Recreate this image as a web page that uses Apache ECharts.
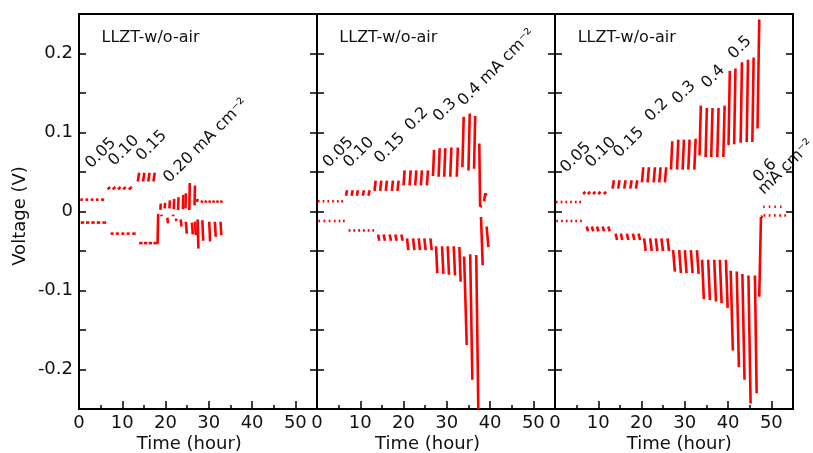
<!DOCTYPE html>
<html><head><meta charset="utf-8">
<script src="https://cdn.jsdelivr.net/npm/echarts@6/dist/echarts.min.js"></script>
<style>html,body{margin:0;padding:0;background:#fff}#c{width:813px;height:453px}</style>
</head><body><div id="c"></div>
<script>
// ---- tick labels ----
const xTickVals = [0, 10, 20, 30, 40, 50];
const yTickVals = [-0.2, -0.1, 0, 0.1, 0.2];
const panelTitle = 'LLZT-w/o-air';
const xName = 'Time (hour)';
const yName = 'Voltage (V)';
const annP1 = ['0.05', '0.10', '0.15', '0.20 mA cm\u207B\u00B2'];
const annP2 = ['0.05', '0.10', '0.15', '0.2', '0.3', '0.4 mA cm\u207B\u00B2'];
const annP3 = ['0.05', '0.10', '0.15', '0.2', '0.3', '0.4', '0.5', '0.6', 'mA cm\u207B\u00B2'];

// ---- data: each item = [t start (h), V start, t end (h), V end] ----
const p1Pos = [
  [0.3,0.015,0.9,0.015],[1.5,0.015,2.1,0.015],[2.7,0.015,3.3,0.015],[3.9,0.015,4.5,0.015],[5.1,0.015,5.8,0.015],
  [6.6,0.028,7.2,0.031],[7.8,0.028,8.4,0.031],[9.0,0.028,9.6,0.031],[10.2,0.028,10.8,0.031],[11.5,0.028,12.2,0.031],
  [13.6,0.038,13.9,0.049],[14.8,0.038,15.1,0.049],[16.0,0.038,16.3,0.049],[17.2,0.038,17.5,0.049],
  [18.8,0.002,18.9,0.010],[19.8,0.004,19.9,0.011],[20.9,0.004,21.0,0.014],[21.9,0.003,22.0,0.016],
  [22.9,0.002,23.0,0.018],[24.0,0.003,24.1,0.021],[24.6,0.004,24.7,0.023],[25.5,0.002,25.6,0.036],
  [26.7,0.008,26.8,0.033],[27.3,0.012,27.4,0.016],[28.3,0.011,28.5,0.014],[29.2,0.011,29.4,0.014],
  [30.1,0.011,30.3,0.014],[31.0,0.011,31.2,0.014],[31.9,0.011,32.1,0.014],[32.8,0.011,33.0,0.014]
];
const p1Neg = [
  [0.4,-0.014,1.2,-0.014],[1.6,-0.014,2.4,-0.014],[2.85,-0.014,3.65,-0.014],[4.1,-0.014,4.9,-0.014],[5.4,-0.014,6.3,-0.014],
  [7.3,-0.028,8.0,-0.028],[8.5,-0.028,9.2,-0.028],[9.8,-0.028,10.5,-0.028],[11.0,-0.028,11.7,-0.028],[12.3,-0.028,13.1,-0.028],
  [13.9,-0.040,14.7,-0.040],[15.0,-0.040,15.8,-0.040],[16.1,-0.040,16.9,-0.040],[17.2,-0.040,18.1,-0.040],
  [18.15,-0.041,18.3,-0.003],
  [19.0,-0.004,19.1,-0.006],[20.4,-0.008,20.6,-0.015],[21.7,-0.004,21.8,-0.006],[22.4,-0.009,22.5,-0.012],
  [23.5,-0.010,23.7,-0.019],[24.7,-0.013,24.9,-0.028],[26.1,-0.014,26.3,-0.029],[26.8,-0.013,27.0,-0.030],
  [27.4,-0.010,27.6,-0.047],[28.5,-0.011,28.7,-0.037],[30.1,-0.013,30.3,-0.038],[31.4,-0.013,31.6,-0.032],
  [32.7,-0.013,32.9,-0.030]
];
const p2Pos = [
  [0.2,0.013,0.6,0.013],[1.3,0.013,1.7,0.013],[2.4,0.013,2.8,0.013],[3.5,0.013,3.9,0.013],[4.6,0.013,5.0,0.013],[5.6,0.013,6.0,0.013],
  [6.7,0.020,6.95,0.027],[8.0,0.020,8.25,0.027],[9.2,0.020,9.45,0.027],[10.6,0.020,10.85,0.027],[11.9,0.020,12.15,0.027],
  [13.3,0.026,13.55,0.039],[14.6,0.026,14.85,0.039],[15.9,0.026,16.15,0.039],[17.3,0.026,17.55,0.039],[18.6,0.026,18.85,0.039],
  [20.0,0.033,20.25,0.052],[21.4,0.033,21.65,0.052],[22.7,0.033,22.95,0.052],[24.0,0.033,24.25,0.052],[25.4,0.033,25.65,0.052],
  [26.8,0.045,27.05,0.078],[28.1,0.044,28.35,0.080],[29.4,0.044,29.65,0.080],[30.8,0.044,31.05,0.081],[32.3,0.044,32.55,0.081],
  [33.6,0.056,33.9,0.120],[35.0,0.052,35.3,0.124],[36.3,0.054,36.55,0.121],
  [37.5,0.086,37.7,0.006],[37.7,0.006,38.1,0.007],
  [38.6,0.013,38.9,0.023],[38.9,0.023,39.2,0.020]
];
const p2Neg = [
  [0.3,-0.012,0.7,-0.012],[1.5,-0.012,1.9,-0.012],[2.7,-0.012,3.1,-0.012],[3.9,-0.012,4.3,-0.012],[5.0,-0.012,5.4,-0.012],[6.0,-0.012,6.4,-0.012],
  [7.3,-0.024,7.75,-0.024],[8.4,-0.024,8.85,-0.024],[9.5,-0.024,9.95,-0.024],[10.6,-0.024,11.05,-0.024],[11.7,-0.024,12.15,-0.024],[12.8,-0.024,13.2,-0.024],
  [14.1,-0.029,14.4,-0.037],[15.4,-0.029,15.7,-0.037],[16.8,-0.029,17.1,-0.037],[18.1,-0.029,18.4,-0.037],[19.5,-0.029,19.8,-0.037],
  [20.8,-0.034,21.1,-0.049],[22.2,-0.034,22.5,-0.049],[23.5,-0.034,23.8,-0.049],[24.8,-0.034,25.1,-0.049],[26.2,-0.034,26.5,-0.049],
  [27.5,-0.044,27.8,-0.078],[28.9,-0.044,29.2,-0.079],[30.2,-0.044,30.5,-0.080],[31.6,-0.044,31.9,-0.081],[32.9,-0.045,33.2,-0.089],
  [34.0,-0.057,34.6,-0.169],[35.4,-0.054,35.9,-0.213],[36.8,-0.055,37.3,-0.26],
  [37.9,-0.007,38.3,-0.068],[39.2,-0.019,39.6,-0.045]
];
const p3Pos = [
  [0.2,0.012,0.6,0.012],[1.3,0.012,1.7,0.012],[2.4,0.012,2.8,0.012],[3.5,0.012,3.9,0.012],[4.6,0.012,5.0,0.012],[5.6,0.012,6.0,0.012],
  [6.5,0.022,7.0,0.025],[7.6,0.022,8.1,0.025],[8.8,0.022,9.3,0.025],[10.0,0.022,10.5,0.025],[11.3,0.022,11.8,0.025],
  [13.3,0.029,13.6,0.0395],[14.6,0.029,14.9,0.0395],[16.0,0.029,16.3,0.0395],[17.4,0.029,17.7,0.0395],[18.7,0.029,19.0,0.0395],
  [20.1,0.037,20.4,0.056],[21.4,0.037,21.7,0.056],[22.8,0.037,23.1,0.056],[24.1,0.037,24.4,0.056],[25.4,0.037,25.7,0.056],
  [26.8,0.053,27.1,0.089],[28.2,0.053,28.5,0.091],[29.5,0.053,29.8,0.091],[30.8,0.053,31.1,0.091],[32.2,0.053,32.5,0.092],
  [33.4,0.071,33.7,0.134],[34.8,0.069,35.1,0.131],[36.1,0.069,36.4,0.131],[37.5,0.069,37.8,0.131],[38.9,0.069,39.2,0.134],
  [40.1,0.084,40.4,0.178],[41.4,0.085,41.7,0.181],[42.9,0.087,43.2,0.189],[44.3,0.088,44.6,0.192],[45.6,0.088,45.9,0.195],
  [46.8,0.105,47.2,0.243],
  [48.1,0.006,48.45,0.006],[49.4,0.006,49.75,0.006],[50.7,0.006,51.05,0.006],[52.0,0.006,52.35,0.006]
];
const p3Neg = [
  [0.3,-0.012,0.7,-0.012],[1.4,-0.012,1.8,-0.012],[2.5,-0.012,2.9,-0.012],[3.6,-0.012,4.0,-0.012],[4.7,-0.012,5.1,-0.012],[5.8,-0.012,6.2,-0.012],
  [7.3,-0.019,7.65,-0.025],[8.5,-0.019,8.85,-0.025],[9.7,-0.019,10.05,-0.025],[11.0,-0.019,11.35,-0.025],[12.3,-0.019,12.65,-0.025],
  [14.0,-0.028,14.35,-0.036],[15.2,-0.028,15.55,-0.036],[16.6,-0.028,16.95,-0.036],[18.0,-0.028,18.35,-0.036],[19.3,-0.028,19.65,-0.036],
  [20.6,-0.034,20.95,-0.050],[22.0,-0.034,22.35,-0.050],[23.3,-0.034,23.65,-0.050],[24.6,-0.034,24.95,-0.050],[26.0,-0.034,26.35,-0.050],
  [27.3,-0.049,27.7,-0.076],[28.7,-0.049,29.1,-0.078],[30.0,-0.049,30.4,-0.078],[31.4,-0.049,31.8,-0.078],[32.8,-0.049,33.2,-0.079],
  [34.0,-0.061,34.4,-0.111],[35.4,-0.061,35.8,-0.112],[36.8,-0.061,37.2,-0.114],[38.1,-0.061,38.5,-0.116],[39.5,-0.061,39.9,-0.122],
  [40.6,-0.075,41.1,-0.176],[42.0,-0.076,42.5,-0.197],[43.3,-0.079,43.8,-0.213],[44.7,-0.081,45.2,-0.243],[46.2,-0.081,46.6,-0.230],
  [47.2,-0.108,47.6,-0.007],[47.6,-0.007,48.0,-0.006],
  [48.2,-0.005,48.6,-0.005],[49.4,-0.005,49.8,-0.005],[50.6,-0.005,51.0,-0.005],[51.8,-0.005,52.2,-0.005],[53.0,-0.005,53.4,-0.005]
];

// ---- chart ----
const FONT = '"DejaVu Sans", Verdana, sans-serif';
const TXT = '#111';
const gridLefts = [79, 317, 555];
const panels = [p1Pos.concat(p1Neg), p2Pos.concat(p2Neg), p3Pos.concat(p3Neg)];

function isLabelVal(list, v) {
  return list.some(t => Math.abs(t - v) < 1e-6);
}

const grids = [], xAxes = [], yAxes = [], series = [];
gridLefts.forEach((left, i) => {
  grids.push({left: left, top: 14, width: 238, height: 395, show: true,
    borderColor: '#000', borderWidth: 2, backgroundColor: 'transparent', outerBoundsMode: 'none'});
  // major x axis
  xAxes.push({gridIndex: i, type: 'value', position: 'bottom', min: 0, max: 55, interval: 10,
    axisLine: {show: true, onZero: false, lineStyle: {color: '#000', width: 2}},
    axisTick: {show: true, inside: true, length: 8, lineStyle: {color: '#000', width: 1.5}},
    axisLabel: {show: true, margin: 5, color: TXT, fontSize: 18, fontFamily: FONT,
      formatter: v => isLabelVal(xTickVals, v) ? String(v) : ''},
    splitLine: {show: false}});
  // minor x ticks
  xAxes.push({gridIndex: i, type: 'value', position: 'bottom', min: 0, max: 55, interval: 5,
    axisLine: {show: false, onZero: false},
    axisTick: {show: true, inside: true, length: 4, lineStyle: {color: '#000', width: 1.5}},
    axisLabel: {show: false}, splitLine: {show: false}});
  // left y axis
  yAxes.push({gridIndex: i, type: 'value', position: 'left', min: -0.25, max: 0.25, interval: 0.05,
    axisLine: {show: true, onZero: false, lineStyle: {color: '#000', width: 2}},
    axisTick: {show: true, inside: true, length: 7, lineStyle: {color: '#000', width: 1.5}},
    axisLabel: {show: i === 0, margin: 6, color: TXT, fontSize: 18, fontFamily: FONT,
      formatter: v => {
        if (!isLabelVal(yTickVals, v)) return '';
        const r = Math.round(v * 10) / 10;
        return r === 0 ? '0' : String(r);
      }},
    splitLine: {show: false}});
  // right y axis
  yAxes.push({gridIndex: i, type: 'value', position: 'right', min: -0.25, max: 0.25, interval: 0.05,
    axisLine: {show: true, onZero: false, lineStyle: {color: '#000', width: 2}},
    axisTick: {show: true, inside: true, length: 7, lineStyle: {color: '#000', width: 1.5}},
    axisLabel: {show: false}, splitLine: {show: false}});
  series.push({
    type: 'custom', coordinateSystem: 'cartesian2d',
    xAxisIndex: i * 2, yAxisIndex: i * 2, clip: true, silent: true,
    encode: {x: [0, 2], y: [1, 3]},
    data: panels[i],
    renderItem: (params, api) => {
      const a = api.coord([api.value(0), api.value(1)]);
      const b = api.coord([api.value(2), api.value(3)]);
      return {type: 'line', shape: {x1: a[0], y1: a[1], x2: b[0], y2: b[1]},
        style: {stroke: '#ff0000', lineWidth: 2.6, lineCap: 'butt'}};
    }
  });
});

function txt(text, x, y, size, rot, align) {
  return {type: 'text', x: x, y: y, rotation: rot || 0, silent: true,
    style: {text: text, x: 0, y: 0, font: size + 'px ' + FONT, fill: TXT,
      textAlign: align || 'center', textVerticalAlign: 'middle',
      align: align || 'center', verticalAlign: 'middle'}};
}
const R = Math.PI / 4;
const graphics = [
  txt(panelTitle, 101.5, 37.5, 16, 0, 'left'),
  txt(panelTitle, 339.3, 37.5, 16, 0, 'left'),
  txt(panelTitle, 577.7, 37.5, 16, 0, 'left'),
  txt(xName, 189.3, 444, 18),
  txt(xName, 427.5, 444, 18),
  txt(xName, 679.3, 444, 18),
  txt(yName, 20, 216, 18, Math.PI / 2),
  // panel 1 annotations
  txt(annP1[0], 100.8, 153.3, 16, R),
  txt(annP1[1], 124, 150.8, 16, R),
  txt(annP1[2], 151.7, 145.8, 16, R),
  txt(annP1[3], 205.8, 140.8, 16, R),
  // panel 2
  txt(annP2[0], 338.3, 152.5, 16, R),
  txt(annP2[1], 359, 152.5, 16, R),
  txt(annP2[2], 390, 148.3, 16, R),
  txt(annP2[3], 416.7, 119.2, 16, R),
  txt(annP2[4], 445, 110, 16, R),
  txt(annP2[5], 496.7, 67.5, 16, R),
  // panel 3
  txt(annP3[0], 575.8, 157.5, 16, R),
  txt(annP3[1], 600.8, 152.5, 16, R),
  txt(annP3[2], 629, 142.5, 16, R),
  txt(annP3[3], 656.7, 110, 16, R),
  txt(annP3[4], 684, 92.5, 16, R),
  txt(annP3[5], 713.3, 76.7, 16, R),
  txt(annP3[6], 740, 47.5, 16, R),
  txt(annP3[7], 765, 170.8, 16, R),
  txt(annP3[8], 786, 167, 16, R)
];

const chart = echarts.init(document.getElementById('c'), null, {renderer: 'canvas'});
chart.setOption({
  animation: false,
  backgroundColor: '#fff',
  grid: grids, xAxis: xAxes, yAxis: yAxes, series: series,
  graphic: {elements: graphics}
});
</script></body></html>
